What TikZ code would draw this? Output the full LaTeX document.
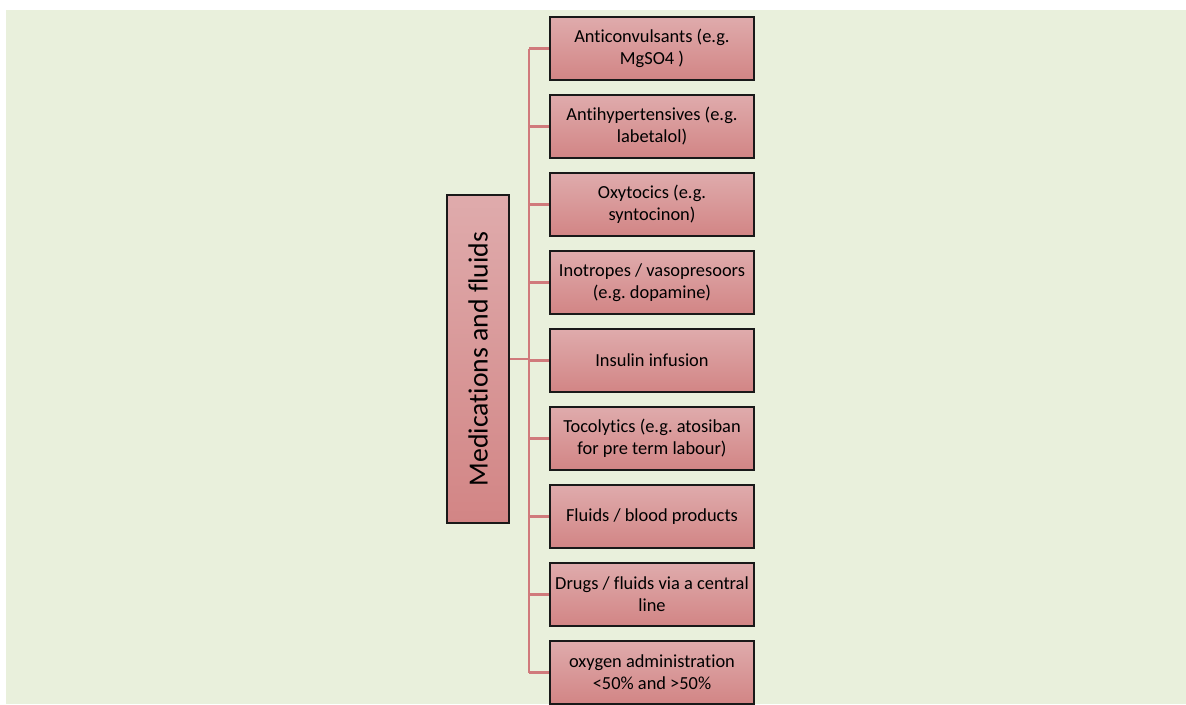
\documentclass[tikz,border=0pt]{standalone}
\usepackage{fontspec}
\setmainfont{Carlito}[Ligatures=NoCommon]
\frenchspacing
\begin{document}
\begin{tikzpicture}[x=0.75pt,y=-0.75pt,
  item/.style={draw=black!90, line width=1.2pt, top color=boxtop, bottom color=boxbot,
    minimum width=204*0.75pt, minimum height=63*0.75pt,
    align=center, inner sep=0pt, font=\fontsize{13.8}{16.5}\selectfont\frenchspacing},
  link/.style={draw=linkred, line width=2.2pt}]
\definecolor{bgreen}{HTML}{E9F0DC}
\definecolor{boxtop}{HTML}{DFABAC}
\definecolor{boxbot}{HTML}{D28585}
\definecolor{linkred}{HTML}{D07A7C}
\useasboundingbox (0,0) rectangle (1186,704);
\fill[bgreen] (6,10) rectangle (1186,704);
% root box, text running bottom to top
\node[draw=black!90, line width=1.2pt, top color=boxtop, bottom color=boxbot,
  minimum width=328*0.75pt, minimum height=62*0.75pt, inner sep=0pt,
  rotate=90, font=\fontsize{20.8}{24}\selectfont] (root) at (478,359) {Medications and fluids};
% child boxes
\node[item] (c1) at (652,48.5) {Anticonvulsants (e.g.\\ MgSO4 )};
\node[item] (c2) at (652,126.5) {Antihypertensives (e.g.\\ labetalol)};
\node[item] (c3) at (652,204.5) {Oxytocics (e.g.\\ syntocinon)};
\node[item] (c4) at (652,282.5) {Inotropes / vasopresoors\\ (e.g. dopamine)};
\node[item] (c5) at (652,360.5) {Insulin infusion};
\node[item] (c6) at (652,438.5) {Tocolytics (e.g. atosiban\\ for pre term labour)};
\node[item] (c7) at (652,516.5) {Fluids / blood products};
\node[item] (c8) at (652,594.5) {Drugs / fluids via a central\\ line};
\node[item] (c9) at (652,672.5) {oxygen administration\\ {<}50\% and {>}50\%};
% trunk and branches
\coordinate (j) at (529,359);
\coordinate (top) at (529,48.5);
\coordinate (bot) at (529,672.5);
\draw[link] (root.south) -- (j);
\draw[link] (top) -- (bot);
\foreach \n in {c1,c2,c3,c4,c5,c6,c7,c8,c9}
  \draw[link] (529,0 |- \n.west) -- (\n.west);
\end{tikzpicture}
\end{document}
